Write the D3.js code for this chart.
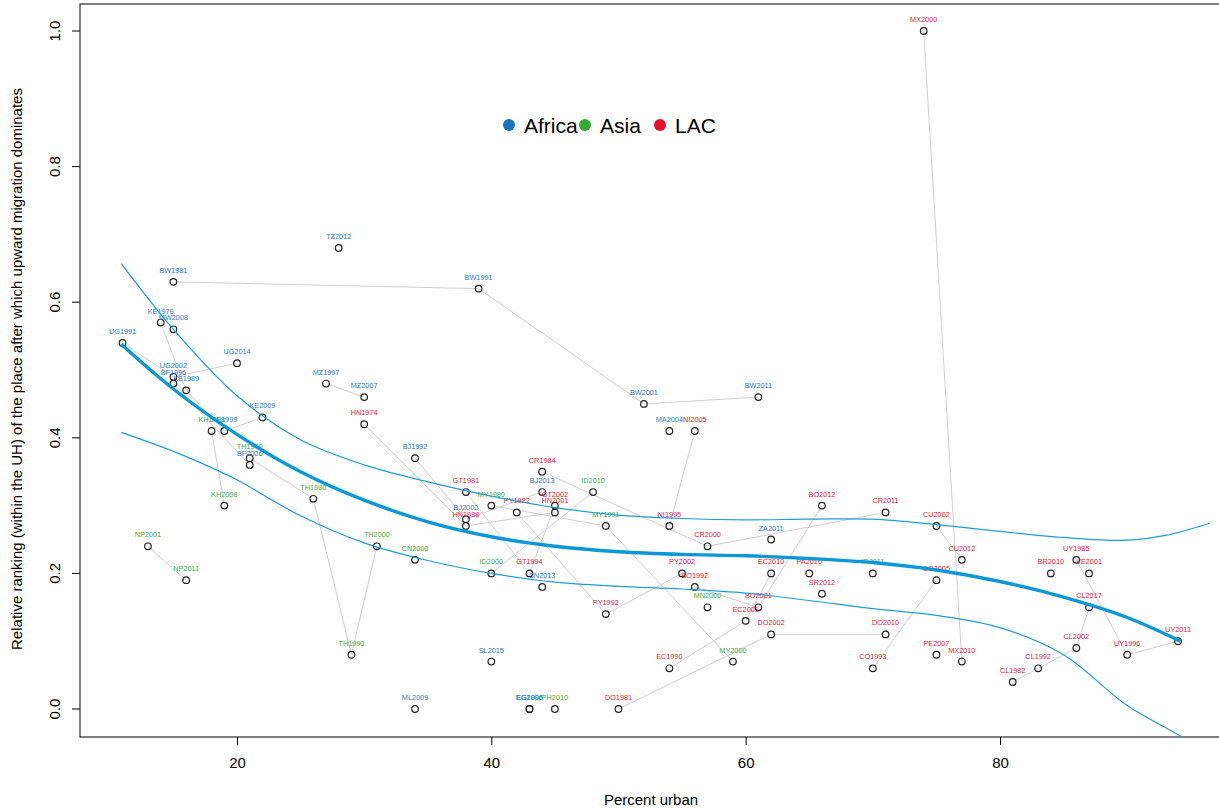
<!DOCTYPE html>
<html><head><meta charset="utf-8">
<script src="https://cdn.jsdelivr.net/npm/d3@7"></script>
<style>body{margin:0;background:#fff}svg{display:block;font-family:"Liberation Sans",Arial,sans-serif}</style>
</head><body><svg id="c" width="1219" height="809"></svg>
<script>
// ---- data ----
const pointLabels = [
 "UG1991","UG2002","UG2014","BW1981","BW1991","BW2001","BW2011","KE1979","KE1989","KE1999","KE2009",
 "MW2008","BF1996","BF2006","TZ2012","MZ1997","MZ2007","BJ1992","BJ2002","BJ2013","SN2013","SL2015",
 "ML2009","EG1996","EG2006","MA2004","ZA2011",
 "NP2001","NP2011","KH1998","KH2008","TH1970","TH1980","TH1990","TH2000","CN2000","MY1980","MY1991",
 "MY2000","ID2000","ID2010","PH2010","MN2000","IR2011",
 "HN1974","HN1988","HN2001","GT1981","GT1994","GT2002","PY1982","PY1992","PY2002","CR1984","CR2000",
 "CR2011","NI1995","NI2005","BO1992","BO2001","BO2012","EC1990","EC2001","EC2010","DO1981","DO2002",
 "DO2010","PA2010","SR2012","CO1993","CO2005","CU2002","CU2012","PE2007","MX2000","MX2010","CL1982",
 "CL1992","CL2002","CL2017","BR2010","UY1985","UY1996","UY2011","VE2001"];
const pointUrban = [
 11,15,20,15,39,52,61,14,16,19,22,
 15,15,21,28,27,30,34,38,44,44,40,
 34,43,43,54,62,
 13,16,18,19,21,26,29,31,34,40,49,
 59,40,48,45,57,70,
 30,38,45,38,43,45,42,49,55,44,57,
 71,54,56,56,61,66,54,60,62,50,62,
 71,65,66,70,75,75,77,75,74,77,81,
 83,86,87,84,86,90,94,87];
const pointRank = [
 0.54,0.49,0.51,0.63,0.62,0.45,0.46,0.57,0.47,0.41,0.43,
 0.56,0.48,0.36,0.68,0.48,0.46,0.37,0.28,0.32,0.18,0.07,
 0.00,0.00,0.00,0.41,0.25,
 0.24,0.19,0.41,0.30,0.37,0.31,0.08,0.24,0.22,0.30,0.27,
 0.07,0.20,0.32,0.00,0.15,0.20,
 0.42,0.27,0.29,0.32,0.20,0.30,0.29,0.14,0.20,0.35,0.24,
 0.29,0.27,0.41,0.18,0.15,0.30,0.06,0.13,0.20,0.00,0.11,
 0.11,0.20,0.17,0.06,0.19,0.27,0.22,0.08,1.00,0.07,0.04,
 0.06,0.09,0.15,0.20,0.22,0.08,0.10,0.20];
const pointRegion = [
 "Africa","Africa","Africa","Africa","Africa","Africa","Africa","Africa","Africa","Africa","Africa",
 "Africa","Africa","Africa","Africa","Africa","Africa","Africa","Africa","Africa","Africa","Africa",
 "Africa","Africa","Africa","Africa","Africa",
 "Asia","Asia","Asia","Asia","Asia","Asia","Asia","Asia","Asia","Asia","Asia",
 "Asia","Asia","Asia","Asia","Asia","Asia",
 "LAC","LAC","LAC","LAC","LAC","LAC","LAC","LAC","LAC","LAC","LAC",
 "LAC","LAC","LAC","LAC","LAC","LAC","LAC","LAC","LAC","LAC","LAC",
 "LAC","LAC","LAC","LAC","LAC","LAC","LAC","LAC","LAC","LAC","LAC",
 "LAC","LAC","LAC","LAC","LAC","LAC","LAC","LAC"];

// fitted curve and bands
const fitX = [10.9,15,20,25,30,35,40,45,50,55,60,65,70,75,80,85,90,94.2];
const fitY = [0.538,0.472,0.405,0.350,0.308,0.276,0.254,0.240,0.232,0.228,0.226,0.222,0.216,0.205,0.188,0.165,0.135,0.100];
const upperX = [10.9,15,20,25,30,35,40,45,50,55,60,65,70,75,80,85,90,93,96.5];
const upperY = [0.657,0.560,0.462,0.397,0.360,0.335,0.314,0.297,0.286,0.281,0.279,0.280,0.280,0.272,0.262,0.253,0.249,0.256,0.274];
const lowerX = [10.9,15,18.4,20,25,30,35,40,45,50,55,60,65,70,75,80,85,90,94.6,96.5];
const lowerY = [0.408,0.380,0.3525,0.338,0.285,0.245,0.219,0.200,0.187,0.181,0.177,0.171,0.160,0.148,0.138,0.120,0.080,0.005,-0.045,-0.075];

const legendLabels = ["Africa","Asia","LAC"];
const xTicks = [20,40,60,80];
const yTicks = [0,0.2,0.4,0.6,0.8,1.0];

// ---- styles ----
const regionColor = {"Africa":"#2a7cc4","Asia":"#45ad45","LAC":"#e31a3c"};
const legendColor = {"Africa":"#1a6fc4","Asia":"#33aa33","LAC":"#e8102a"};

const svg = d3.select("#c");
const x = d3.scaleLinear().domain([20,80]).range([237,1000]);
const y = d3.scaleLinear().domain([0,1]).range([709,31]);
const pLeft = 80, pRight = 1221, pTop = 4, pBottom = 737;

svg.append("defs").append("clipPath").attr("id","plotclip")
  .append("rect").attr("x",pLeft).attr("y",pTop).attr("width",pRight-pLeft).attr("height",pBottom-pTop);

// frame
svg.append("rect").attr("x",pLeft).attr("y",pTop).attr("width",pRight-pLeft).attr("height",pBottom-pTop)
  .attr("fill","none").attr("stroke","#000").attr("stroke-width",1);

// axes
const xAxis = svg.append("g").attr("transform",`translate(0,${pBottom})`)
  .call(d3.axisBottom(x).tickValues(xTicks).tickSize(8).tickSizeOuter(0).tickFormat(d3.format("d")));
xAxis.select(".domain").remove();
xAxis.selectAll("text").attr("font-size",15).attr("font-family","Liberation Sans, Arial, sans-serif").attr("dy","1.35em").attr("fill","#000");
xAxis.selectAll("line").attr("stroke","#000");

const yAxis = svg.append("g").attr("transform",`translate(${pLeft},0)`)
  .call(d3.axisLeft(y).tickValues(yTicks).tickSize(8).tickSizeOuter(0).tickFormat(d3.format(".1f")));
yAxis.select(".domain").remove();
yAxis.selectAll("line").attr("stroke","#000");
yAxis.selectAll(".tick").attr("transform",null);
yAxis.selectAll(".tick line").attr("transform", d => `translate(0,${y(d)})`);
yAxis.selectAll(".tick text").attr("font-size",15).attr("font-family","Liberation Sans, Arial, sans-serif")
  .attr("fill","#000").attr("text-anchor","middle").attr("x",0).attr("y",0).attr("dy",0)
  .attr("dominant-baseline","central")
  .attr("transform", d => `translate(-26,${y(d)}) rotate(-90)`);

// axis titles
svg.append("text").attr("x",651).attr("y",805).attr("text-anchor","middle")
  .attr("font-size",15).text("Percent urban");
svg.append("text").attr("transform","translate(22,369) rotate(-90)").attr("text-anchor","middle")
  .attr("font-size",15).text("Relative ranking (within the UH) of the place after which upward migration dominates");

// points table
const pts = pointLabels.map((l,i)=>({label:l, code:l.slice(0,2), year:+l.slice(2), u:pointUrban[i], r:pointRank[i], reg:pointRegion[i]}));
const plot = svg.append("g").attr("clip-path","url(#plotclip)");

// connecting lines per country
const groups = d3.groups(pts, d=>d.code);
const lineGen = d3.line().x(d=>x(d.u)).y(d=>y(d.r));
groups.forEach(([code, arr])=>{
  arr.sort((a,b)=>a.year-b.year);
  if (arr.length>1) plot.append("path").attr("d",lineGen(arr)).attr("fill","none")
    .attr("stroke","#cfcfcf").attr("stroke-width",1);
});

// points
plot.selectAll("circle.pt").data(pts).join("circle").attr("class","pt")
  .attr("cx",d=>x(d.u)).attr("cy",d=>y(d.r)).attr("r",3.3)
  .attr("fill","none").attr("stroke","#222").attr("stroke-width",1.2);

// labels
plot.selectAll("text.lab").data(pts).join("text").attr("class","lab")
  .attr("x",d=>x(d.u)).attr("y",d=>y(d.r)-9).attr("text-anchor","middle")
  .attr("font-size",7.3).attr("fill",d=>regionColor[d.reg]).text(d=>d.label);

// curves
const cLine = d3.line().curve(d3.curveCatmullRom.alpha(0.5));
plot.append("path").attr("d",cLine(upperX.map((v,i)=>[x(v),y(upperY[i])])))
  .attr("fill","none").attr("stroke","#1c9fd2").attr("stroke-width",1.2);
plot.append("path").attr("d",cLine(lowerX.map((v,i)=>[x(v),y(lowerY[i])])))
  .attr("fill","none").attr("stroke","#1c9fd2").attr("stroke-width",1.2);
plot.append("path").attr("d",cLine(fitX.map((v,i)=>[x(v),y(fitY[i])])))
  .attr("fill","none").attr("stroke","#0a98d8").attr("stroke-width",3.4);

// legend
const legX = [509,585,660];
legendLabels.forEach((l,i)=>{
  svg.append("circle").attr("cx",legX[i]).attr("cy",125).attr("r",6).attr("fill",legendColor[l]);
  svg.append("text").attr("x",legX[i]+15).attr("y",133).attr("font-size",21).attr("fill","#000").text(l);
});
</script></body></html>
